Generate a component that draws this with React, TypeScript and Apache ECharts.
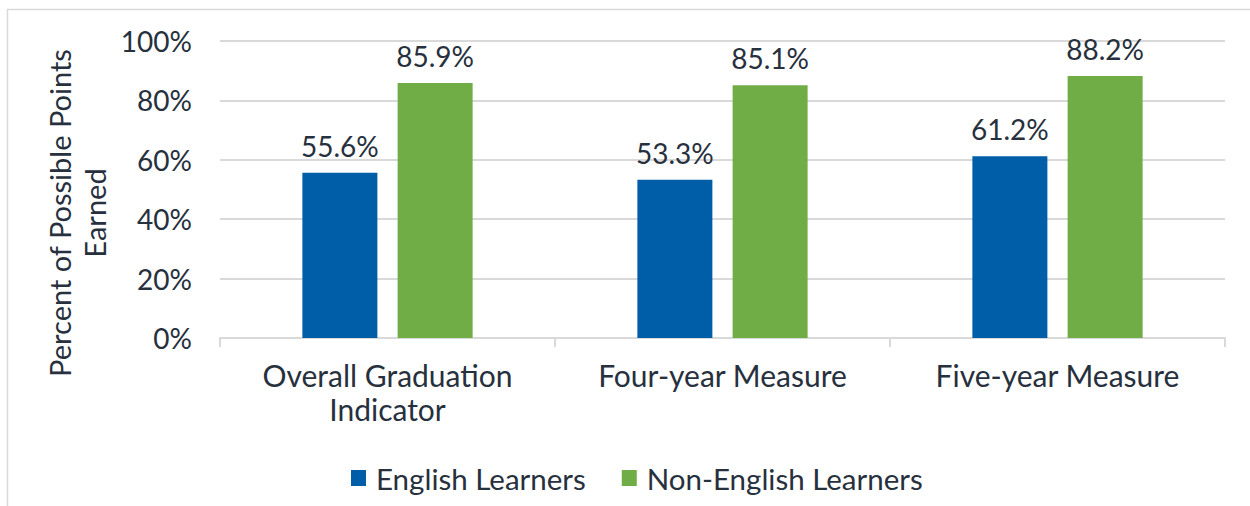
import React, { useEffect, useRef } from "react";
import * as echarts from "echarts";

const categories = ["Overall Graduation\nIndicator", "Four-year Measure", "Five-year Measure"];
const englishLearners = [55.6, 53.3, 61.2];
const nonEnglishLearners = [85.9, 85.1, 88.2];
const seriesNames = ["English Learners", "Non-English Learners"];
const yAxisTitle = "Percent of Possible Points\nEarned";

const FONT = "Lato, 'Noto Sans', sans-serif";
const TEXT = "#27303d";

export default function App() {
  const ref = useRef<HTMLDivElement>(null);
  useEffect(() => {
    if (!ref.current) return;
    const chart = echarts.init(ref.current, null, { renderer: "svg" });
    const labelCfg = {
      show: true,
      position: "top",
      distance: 13,
      fontSize: 28,
      fontFamily: FONT,
      color: TEXT,
      formatter: (p: any) => p.value.toFixed(1) + "%",
    };
    chart.setOption({
      animation: false,
      backgroundColor: "#ffffff",
      textStyle: { fontFamily: FONT },
      grid: { left: 220, right: 25, top: 41, bottom: 168 },
      graphic: [
        {
          type: "rect",
          shape: { x: 7.5, y: 9.5, width: 1270, height: 530 },
          style: { fill: "none", stroke: "#d9d9d9", lineWidth: 1.5 },
          silent: true,
        },
        {
          type: "text",
          x: 77,
          y: 213,
          rotation: Math.PI / 2,
          style: {
            text: yAxisTitle,
            fontSize: 29,
            fontFamily: FONT,
            fill: TEXT,
            align: "center",
            verticalAlign: "middle",
            lineHeight: 35,
          },
        },
      ],
      legend: {
        left: 351,
        top: 463,
        padding: 0,
        itemWidth: 15,
        itemHeight: 16,
        itemGap: 36,
        icon: "rect",
        textStyle: { fontSize: 29.5, fontFamily: FONT, color: TEXT, padding: [0, 0, 0, 5] },
        data: seriesNames,
      },
      xAxis: {
        type: "category",
        data: categories,
        axisLine: { lineStyle: { color: "#d9d9d9", width: 2 } },
        axisTick: { show: true, length: 9, lineStyle: { color: "#d9d9d9", width: 2 } },
        axisLabel: {
          fontSize: 30,
          fontFamily: FONT,
          color: TEXT,
          margin: 20,
          lineHeight: 34,
          interval: 0,
        },
      },
      yAxis: {
        type: "value",
        min: 0,
        max: 100,
        interval: 20,
        axisLine: { show: false },
        axisTick: { show: false },
        splitLine: { lineStyle: { color: "#d9d9d9", width: 2 } },
        axisLabel: {
          fontSize: 28,
          fontFamily: FONT,
          color: TEXT,
          margin: 28,
          formatter: "{value}%",
        },
      },
      series: [
        {
          name: seriesNames[0],
          type: "bar",
          data: englishLearners,
          barWidth: 75,
          barGap: "27%",
          itemStyle: { color: "#005ea8" },
          label: labelCfg,
        },
        {
          name: seriesNames[1],
          type: "bar",
          data: nonEnglishLearners,
          barWidth: 75,
          barGap: "27%",
          itemStyle: { color: "#70ad47" },
          label: labelCfg,
        },
      ],
    });
    return () => chart.dispose();
  }, []);
  return (
    <div
      ref={ref}
      style={{ position: "fixed", left: 0, top: 0, width: 1250, height: 506 }}
    />
  );
}
